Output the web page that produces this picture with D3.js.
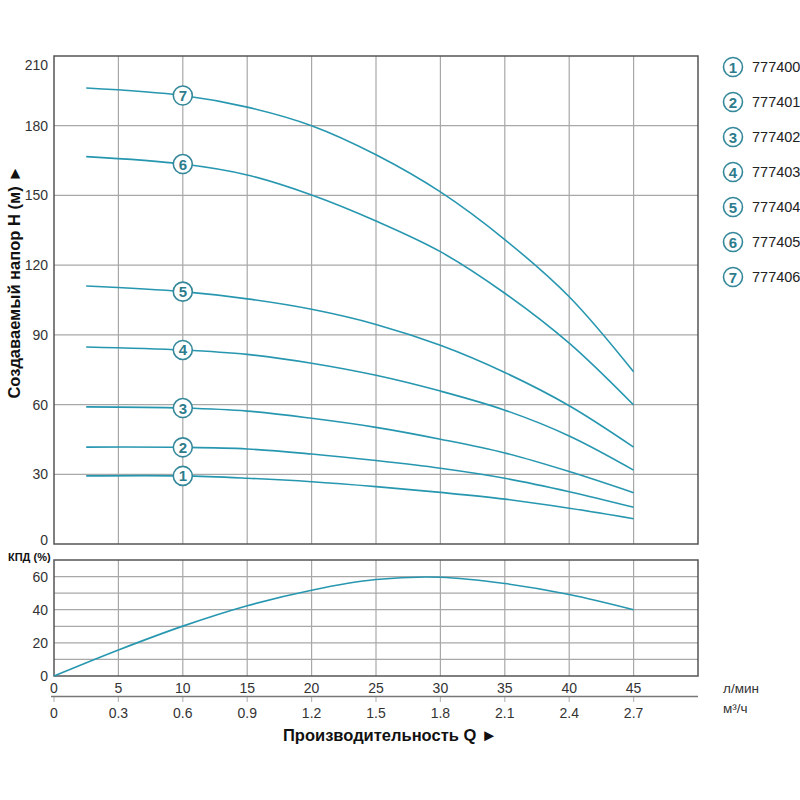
<!DOCTYPE html>
<meta charset="utf-8">
<head>
  <title>Pump curves</title>
</head>

<style>
body {
  margin: 0;
  font-family: "Liberation Sans", Arial, Helvetica, sans-serif;
  background: #fff;
}
svg text { fill: #333; }
</style>

<body>
  <div id="content">
    <svg width="800" height="800"></svg>
  </div>

  <script src="https://cdnjs.cloudflare.com/ajax/libs/d3/7.8.5/d3.min.js"></script>

  <script>
// flow points, l/min
var flow = [2.5, 10, 15, 20, 25, 30, 35, 40, 45];

// head (m) per model
var head1 = [29.3, 29.3, 28.3, 26.8, 24.7, 22.2, 19.3, 15.4, 10.9];
var head2 = [41.7, 41.6, 40.9, 38.7, 35.9, 32.6, 28.3, 22.5, 15.8];
var head3 = [59.0, 58.5, 57.2, 54.1, 50.2, 45.1, 39.2, 31.2, 22.1];
var head4 = [84.8, 83.5, 81.6, 77.8, 72.6, 65.8, 57.6, 46.5, 31.8];
var head5 = [111.0, 108.6, 105.5, 101.0, 94.5, 85.5, 73.8, 59.5, 41.7];
var head6 = [166.7, 163.5, 158.8, 150.2, 139.0, 125.8, 107.9, 86.4, 59.8];
var head7 = [196.2, 193.0, 188.0, 180.0, 167.5, 151.5, 131.0, 106.4, 74.1];
var heads = [head1, head2, head3, head4, head5, head6, head7];

var models = ['777400', '777401', '777402', '777403', '777404', '777405', '777406'];

// efficiency
var effFlow = [0, 5, 10, 15, 20, 25, 30, 35, 40, 45];
var eff = [0, 15.7, 30.1, 42.4, 51.8, 58.2, 59.6, 55.8, 49.2, 40];

var lpmTicks = [0, 5, 10, 15, 20, 25, 30, 35, 40, 45];
var m3hLabels = ['0', '0.3', '0.6', '0.9', '1.2', '1.5', '1.8', '2.1', '2.4', '2.7'];
var headTicks = [0, 30, 60, 90, 120, 150, 180, 210];
var effTicks = [0, 20, 40, 60];

var lineColor = '#2797b0';
var markColor = '#35889a';

var svg = d3.select('#content svg');

var x = d3.scaleLinear().domain([0, 50]).range([54, 698]);
var yH = d3.scaleLinear().domain([0, 210]).range([544, 56]);
var yE = d3.scaleLinear().domain([0, 70]).range([676, 560]);

// Grid
var grid = svg.append('g').attr('stroke', '#a8a8a8').attr('stroke-width', 1.2);
d3.range(5, 50, 5).forEach(function(v) {
  grid.append('line').attr('x1', x(v)).attr('x2', x(v)).attr('y1', yH(210)).attr('y2', yH(0));
  grid.append('line').attr('x1', x(v)).attr('x2', x(v)).attr('y1', yE(70)).attr('y2', yE(0));
});
d3.range(30, 210, 30).forEach(function(v) {
  grid.append('line').attr('x1', x(0)).attr('x2', x(50)).attr('y1', yH(v)).attr('y2', yH(v));
});
d3.range(10, 70, 10).forEach(function(v) {
  grid.append('line').attr('x1', x(0)).attr('x2', x(50)).attr('y1', yE(v)).attr('y2', yE(v));
});

// Frames
svg.append('rect')
  .attr('x', x(0)).attr('y', yH(210))
  .attr('width', x(50) - x(0)).attr('height', yH(0) - yH(210))
  .attr('fill', 'none').attr('stroke', '#555').attr('stroke-width', 1.5);
svg.append('rect')
  .attr('x', x(0)).attr('y', yE(70))
  .attr('width', x(50) - x(0)).attr('height', yE(0) - yE(70))
  .attr('fill', 'none').attr('stroke', '#555').attr('stroke-width', 1.5);

// Head curves
var line = d3.line()
  .x(function(d, i) { return x(flow[i]); })
  .y(function(d) { return yH(d); })
  .curve(d3.curveCatmullRom.alpha(0.5));

heads.forEach(function(h) {
  svg.append('path')
    .attr('d', line(h))
    .attr('fill', 'none')
    .attr('stroke', lineColor)
    .attr('stroke-width', 1.6);
});

// Efficiency curve
var effLine = d3.line()
  .x(function(d, i) { return x(effFlow[i]); })
  .y(function(d) { return yE(d); })
  .curve(d3.curveCatmullRom.alpha(0.5));

svg.append('path')
  .attr('d', effLine(eff))
  .attr('fill', 'none')
  .attr('stroke', lineColor)
  .attr('stroke-width', 1.6);

// Numbered markers
function marker(cx, cy, n) {
  svg.append('circle')
    .attr('cx', cx).attr('cy', cy).attr('r', 9.5)
    .attr('fill', '#fff').attr('stroke', markColor).attr('stroke-width', 1.6);
  svg.append('text')
    .attr('x', cx).attr('y', cy + 5.5)
    .attr('text-anchor', 'middle')
    .style('font-size', '15px').style('font-weight', 'bold')
    .style('fill', '#2d7c8d')
    .text(n);
}

heads.forEach(function(h, i) {
  marker(x(flow[1]), yH(h[1]), i + 1);
});

// Legend
models.forEach(function(m, i) {
  var cy = 67 + i * 35;
  marker(733, cy, i + 1);
  svg.append('text')
    .attr('x', 752).attr('y', cy + 5)
    .style('font-size', '14.5px').style('fill', '#222')
    .text(m);
});

// Y tick labels
headTicks.forEach(function(v) {
  var dy = 5;
  if (v === 210) dy = 14;
  if (v === 0) dy = 1;
  svg.append('text')
    .attr('x', 48).attr('y', yH(v) + dy)
    .attr('text-anchor', 'end')
    .style('font-size', '14px')
    .text(v);
});
effTicks.forEach(function(v) {
  svg.append('text')
    .attr('x', 48).attr('y', yE(v) + 5)
    .attr('text-anchor', 'end')
    .style('font-size', '14px')
    .text(v);
});

// X axes
lpmTicks.forEach(function(v, i) {
  svg.append('text')
    .attr('x', x(v)).attr('y', 693)
    .attr('text-anchor', 'middle')
    .style('font-size', '14px')
    .text(v);
  svg.append('line')
    .attr('x1', x(v)).attr('x2', x(v)).attr('y1', 697).attr('y2', 702)
    .attr('stroke', '#bbb').attr('stroke-width', 1.2);
  svg.append('text')
    .attr('x', x(v)).attr('y', 718)
    .attr('text-anchor', 'middle')
    .style('font-size', '14px')
    .text(m3hLabels[i]);
});
svg.append('line')
  .attr('x1', 51).attr('x2', x(50)).attr('y1', 696.5).attr('y2', 696.5)
  .attr('stroke', '#777').attr('stroke-width', 1.5);

svg.append('text').attr('x', 723).attr('y', 693)
  .style('font-size', '13.5px').text('л/мин');
svg.append('text').attr('x', 723).attr('y', 713)
  .style('font-size', '13.5px').text('м³/ч');

// Titles
svg.append('text')
  .attr('x', 283).attr('y', 741)
  .style('font-size', '16.5px').style('font-weight', 'bold').style('fill', '#111')
  .text('Производительность Q  ►');

svg.append('text')
  .attr('transform', 'rotate(-90)')
  .attr('x', -282).attr('y', 20)
  .attr('text-anchor', 'middle')
  .style('font-size', '16.5px').style('font-weight', 'bold').style('fill', '#111')
  .text('Создаваемый напор H (м) ►');

svg.append('text')
  .attr('x', 8).attr('y', 561)
  .style('font-size', '11px').style('font-weight', 'bold').style('fill', '#111')
  .text('КПД (%)');
  </script>
</body>
</html>
